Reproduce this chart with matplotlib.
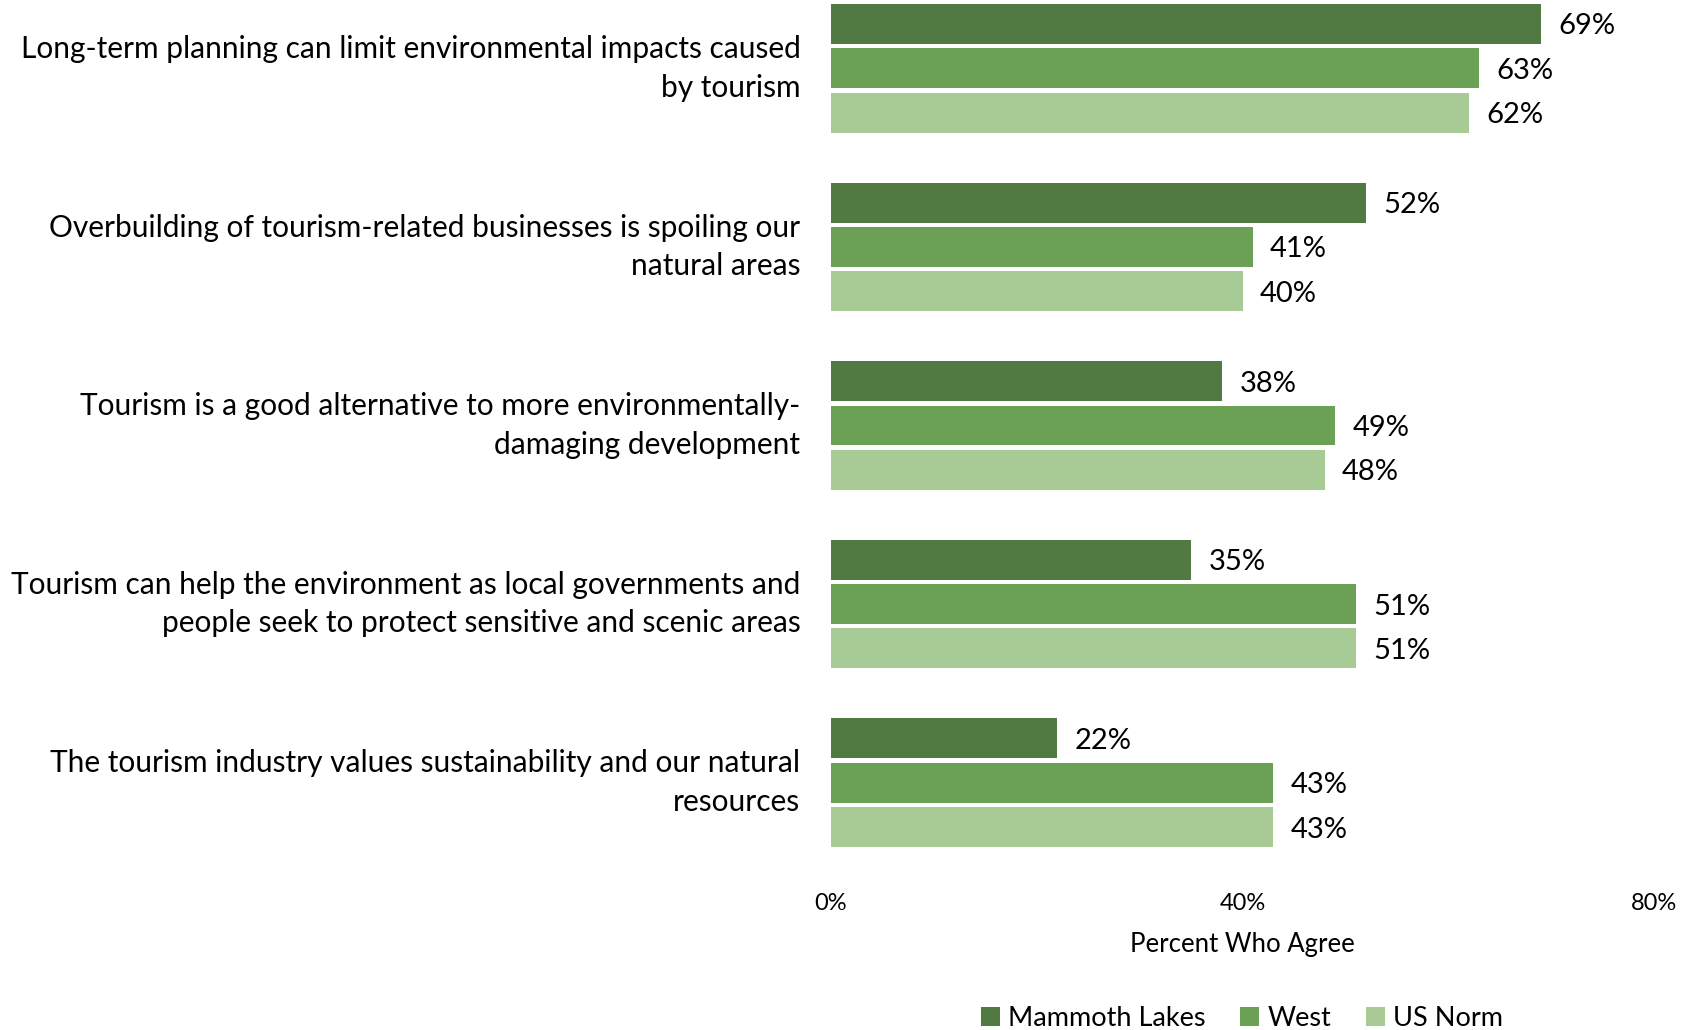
import matplotlib
matplotlib.use('Agg')
import matplotlib.pyplot as plt
import numpy as np

plt.rcParams['font.family'] = ['Lato', 'DejaVu Sans']

statements = [
    'Long-term planning can limit environmental impacts caused\nby tourism',
    'Overbuilding of tourism-related businesses is spoiling our\nnatural areas',
    'Tourism is a good alternative to more environmentally-\ndamaging development',
    'Tourism can help the environment as local governments and\npeople seek to protect sensitive and scenic areas',
    'The tourism industry values sustainability and our natural\nresources',
]
series_names = ['Mammoth Lakes', 'West', 'US Norm']
mammoth = [69, 52, 38, 35, 22]
west = [63, 41, 49, 51, 43]
us_norm = [62, 40, 48, 51, 43]
xtick_values = [0, 40, 80]

colors = ['#507a42', '#6aa155', '#a8cb96']

fig = plt.figure(figsize=(17.03, 10.30), dpi=100)
ax = fig.add_axes([831 / 1703, 1 - 847 / 1030, (1654 - 831) / 1703, (847 - 4) / 1030])

y = np.arange(len(statements))
step = 0.249   # distance between bars in a group
height = 0.224

for i, (name, vals) in enumerate(zip(series_names, [mammoth, west, us_norm])):
    bars = ax.barh(y + (i - 1) * step, vals, height, color=colors[i], label=name)
    for rect, v in zip(bars, vals):
        ax.annotate('{}%'.format(v),
                    xy=(rect.get_width(), rect.get_y() + rect.get_height() / 2),
                    xytext=(12.5, 0), textcoords='offset points',
                    ha='left', va='center_baseline', fontsize=21)

ax.set_ylim(len(statements) - 1 + step + height / 2, -step - height / 2)
ax.set_xlim(0, 80)

ax.set_yticks(y)
ax.set_yticklabels(statements, fontsize=21.5, linespacing=1.45, va='center')
ax.set_xticks(xtick_values)
ax.set_xticklabels(['{}%'.format(v) for v in xtick_values], fontsize=17)
ax.tick_params(axis='y', length=0, pad=22)
ax.tick_params(axis='x', length=0, pad=33)
ax.set_xlabel('Percent Who Agree', fontsize=18.5, labelpad=13)

for s in ax.spines.values():
    s.set_visible(False)

fig.legend(loc='center', bbox_to_anchor=(1242 / 1703, 1 - 1018 / 1030), ncol=3,
           frameon=False, fontsize=19.5, handlelength=0.7, handleheight=0.7,
           handletextpad=0.3, columnspacing=1.3)

fig.savefig('out.png', dpi=100)
